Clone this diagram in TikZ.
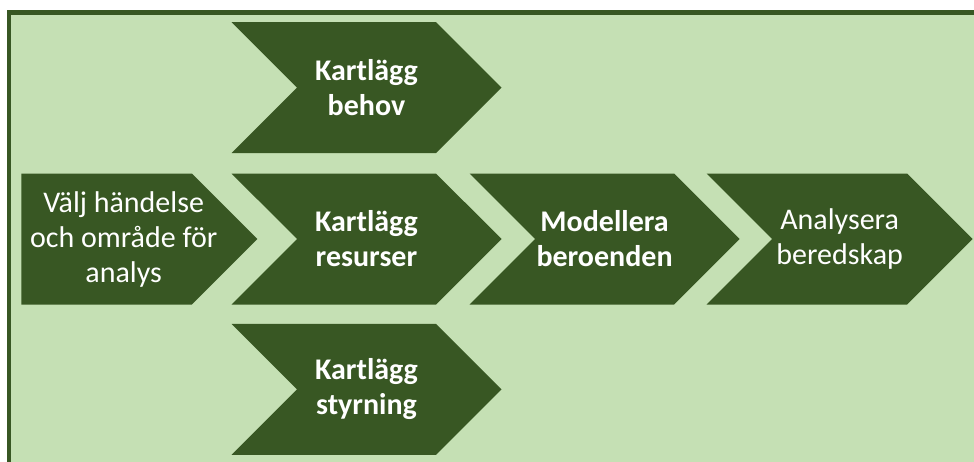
\documentclass[tikz,border=0pt]{standalone}
\usepackage{fontspec}
\setmainfont{Carlito}
\usetikzlibrary{shapes.symbols,positioning}
\definecolor{stepdark}{RGB}{56,87,35}
\definecolor{steplight}{RGB}{197,224,180}

\begin{document}
\begin{tikzpicture}[
    x=1pt, y=-1pt,
    chevron/.style={signal, signal to=east, signal from=west, fill=stepdark, draw=none,
        minimum width=270pt, minimum height=131pt, inner sep=0pt, align=center,
        text=white, font=\fontsize{30}{35}\selectfont},
    first/.style={chevron, signal from=nowhere, minimum width=236pt},
    strong/.style={font=\fontsize{30}{35}\selectfont\bfseries}
]
    % Frame
    \useasboundingbox (0,0) rectangle (974,461);
    \fill[white] (0,0) rectangle (974,461);
    \fill[steplight] (9,12.5) rectangle (990,480);
    \draw[stepdark, line width=4.5pt] (9,480) -- (9,12.5) -- (990,12.5);

    % Steps
    \node[chevron, strong] (resurser) at (366.5,239) {Kartlägg\\resurser};
    \node[chevron, strong, above=20pt of resurser] (behov) {Kartlägg\\behov};
    \node[chevron, strong, below=19pt of resurser] (styrning) {Kartlägg\\styrning};
    \node[first, left=39pt of resurser,
        label={[align=center, text=white, font=\fontsize{30}{35}\selectfont, xshift=17pt]center:Välj händelse\\och område för\\analys}] (valj) {};
    \node[chevron, strong, right=33pt of resurser] (modellera) {Modellera\\beroenden};
    \node[chevron, minimum width=266pt, right=32pt of modellera] (analysera) {Analysera\\beredskap};

\end{tikzpicture}
\end{document}
